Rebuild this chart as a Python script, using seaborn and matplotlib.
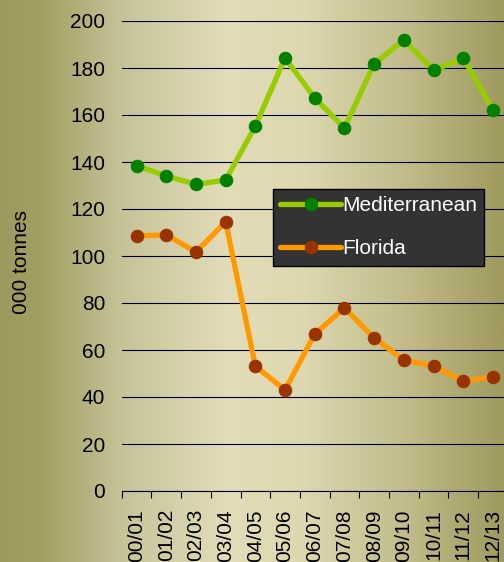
import numpy as np
import pandas as pd
import seaborn as sns
import matplotlib.pyplot as plt
from matplotlib.colors import LinearSegmentedColormap

seasons = ["00/01", "01/02", "02/03", "03/04", "04/05", "05/06", "06/07",
           "07/08", "08/09", "09/10", "10/11", "11/12", "12/13"]
mediterranean = [138.5, 134, 130.5, 132.3, 155.3, 184.3, 167.2,
                 154.5, 181.7, 192, 179, 184.3, 162]
florida = [108.5, 109, 101.7, 114.5, 53.2, 43, 66.8,
           77.9, 65.1, 55.7, 53.2, 46.8, 48.5]

df = pd.DataFrame({"season": seasons, "Mediterranean": mediterranean, "Florida": florida})

sns.set_style("white", {"text.color": "black", "xtick.color": "black",
                        "ytick.color": "black", "axes.labelcolor": "black"})
plt.rcParams['font.family'] = ['Liberation Sans', 'DejaVu Sans']
plt.rcParams['font.size'] = 15

fig = plt.figure(figsize=(5.04, 5.62), dpi=100)

# horizontal gradient background over the whole figure
bg = fig.add_axes([0, 0, 1, 1], zorder=-10)
grad_cmap = LinearSegmentedColormap.from_list("bg", [
    (0.0, "#9e995c"), (0.08, "#a39f63"), (0.25, "#c8c49a"), (0.45, "#e2ddb8"),
    (0.6, "#ddd8af"), (0.8, "#c2bd8b"), (1.0, "#9f9a5e")])
bg.imshow(np.linspace(0, 1, 256)[None, :], aspect="auto", cmap=grad_cmap,
          extent=[0, 1, 0, 1])
bg.axis("off")

ax = fig.add_axes([121.7 / 504, 71 / 562, 386.1 / 504, 470 / 562])
ax.set_facecolor("none")

sns.lineplot(data=df, x="season", y="Florida", ax=ax, sort=False, color="#ff9900",
             linewidth=3.8, marker="o", markersize=9, markerfacecolor="#993300",
             markeredgecolor="#993300", label="Florida", zorder=3)
sns.lineplot(data=df, x="season", y="Mediterranean", ax=ax, sort=False, color="#99cc00",
             linewidth=3.8, marker="o", markersize=9, markerfacecolor="#008000",
             markeredgecolor="#008000", label="Mediterranean", zorder=3)

ax.set_xlim(-0.5, len(seasons) - 0.5)
ax.set_ylim(0, 200)
ax.set_yticks(range(0, 201, 20))
ax.yaxis.grid(True, color="black", linewidth=0.8)
ax.set_axisbelow(True)
for s in ["top", "right", "left"]:
    ax.spines[s].set_visible(False)
ax.spines["bottom"].set_color("black")
ax.spines["bottom"].set_linewidth(0.8)

ax.set_xticks(range(len(seasons)))
ax.set_xticklabels(seasons, rotation=90)
ax.set_xticks(np.arange(-0.5, len(seasons), 1), minor=True)
ax.tick_params(axis="x", which="major", length=0, pad=13, labelsize=15)
ax.tick_params(axis="x", which="minor", length=5, width=0.8, color="black", bottom=True)
ax.tick_params(axis="y", length=0, pad=12, labelsize=15)
ax.set_xlabel("")
ax.set_ylabel("")

fig.text(22 / 504, 1 - 262 / 562, "000 tonnes", rotation=90, ha="center", va="center",
         fontsize=15, color="black")

handles, labels = ax.get_legend_handles_labels()
order = [labels.index("Mediterranean"), labels.index("Florida")]
leg = ax.legend([handles[i] for i in order], [labels[i] for i in order],
                loc="upper left", bbox_to_anchor=(273 / 504, 1 - 189 / 562),
                bbox_transform=fig.transFigure, fancybox=False, frameon=True,
                facecolor="#333333", edgecolor="black", framealpha=1,
                labelcolor="white", fontsize=15, handlelength=2.9,
                handletextpad=0.05, labelspacing=1.15, borderpad=0.35,
                borderaxespad=0)
leg.get_frame().set_linewidth(1)

fig.savefig("out.png", dpi=100)
